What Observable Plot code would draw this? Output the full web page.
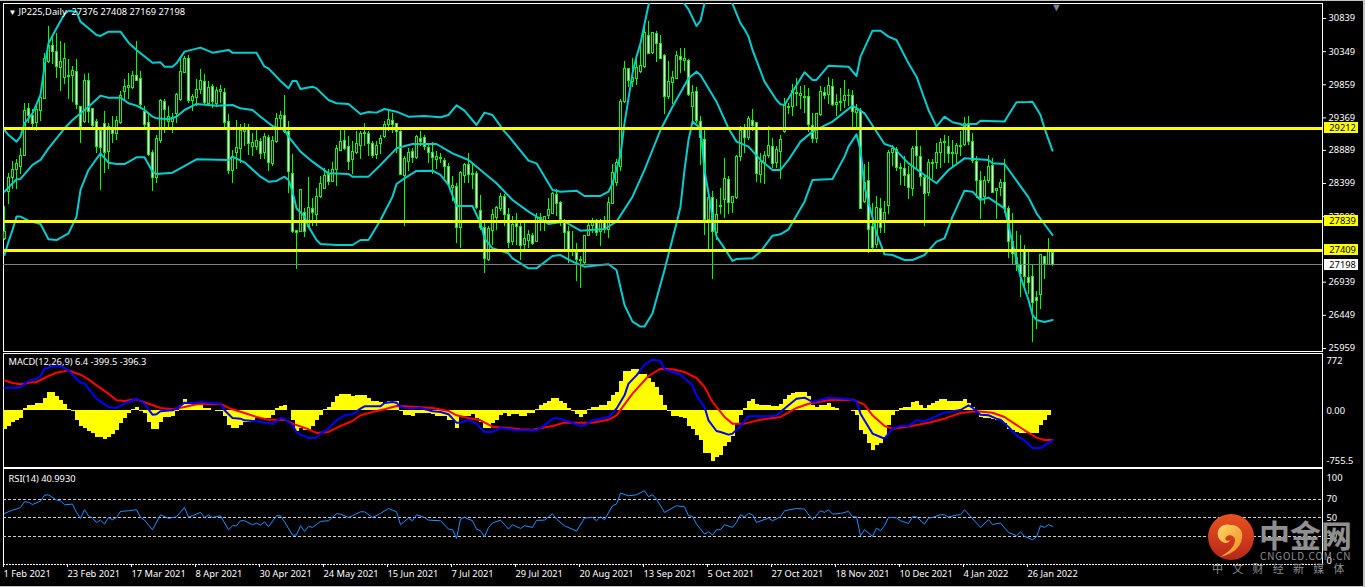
<!DOCTYPE html>
<html>
<head>
<meta charset="utf-8">
<script src="https://cdn.jsdelivr.net/npm/d3@7"></script>
<script src="https://cdn.jsdelivr.net/npm/@observablehq/plot@0.6"></script>
<style>
html,body{margin:0;padding:0;background:#000;width:1365px;height:587px;overflow:hidden}
#page{position:absolute;left:0;top:0;width:1365px;height:587px;background:#000;overflow:hidden}
#page svg{position:absolute;left:0;background:transparent;overflow:visible}
.edge{position:absolute;background:#c4c4c4}
.wm{position:absolute;white-space:nowrap;color:#8f8f8f;font-family:"Noto Sans CJK SC",sans-serif}
</style>
</head>
<body>
<div id="page"></div>
<script>
const FONT = '"Noto Sans",sans-serif';
const opens = [
27573,28278,28475,28599,28638,28811,29501,29402,29289,29471,
29644,30191,30433,30339,30102,29964,29979,29989,30043,29535,
29304,29915,29496,29314,29180,29274,28870,29200,29126,29299,
29757,29816,29816,29989,29940,29461,29289,28845,28475,29032,
29600,29304,29314,29427,29634,30038,30235,29619,29659,29782,
29895,29575,29821,29575,29752,29733,29304,28589,28855,28904,
29166,29200,28944,28944,29018,28855,29067,28687,29018,29348,
29402,29166,28540,27701,27687,27958,27751,28022,27933,28204,
28313,28525,28426,28599,28885,29032,28934,28747,28855,28959,
29131,29131,28983,28821,28978,29082,29264,29328,29274,29156,
28510,28722,28860,28781,29057,29067,28919,28855,28747,28757,
28737,28648,28328,28342,27746,28515,28673,28525,28535,27997,
27746,27268,27701,27884,28022,28204,27933,27529,27800,27751,
27489,27554,27622,27539,27859,27820,27918,27948,28229,28116,
27810,27677,27406,27366,27268,27218,27627,27775,27810,27687,
27820,27711,28096,28402,28648,29609,30088,29905,29945,30053,
30127,30581,30324,30610,30457,30285,29683,29880,29940,30275,
30216,30211,29535,29747,29314,29042,27859,28190,27672,28056,
28155,28451,28106,28180,28786,29215,29067,29328,29289,28525,
28707,28806,28944,28697,28860,29156,29511,29526,29718,29693,
29659,29673,29254,29052,29412,29742,29708,29821,29555,29595,
29624,29693,29698,29437,29471,28121,28441,27761,27489,28017,
27810,28071,28845,28894,28613,28609,28525,28313,28944,28796,
28475,28263,28687,28697,28855,29003,28944,28830,28830,28934,
28968,29264,29008,28722,28441,28204,28441,28658,28293,28337,
28402,28017,27539,27302,27194,27381,26996,27011,26711,26750,
27307,27194,27376];
const highs = [
28056,28549,28722,28747,28919,29585,29585,29486,29535,29733,
30324,30719,30571,30620,30497,30462,30226,30127,30235,29535,
30004,30019,29511,29338,29215,29471,29289,29387,29387,29757,
29930,30028,30053,30497,30053,29545,29437,28894,29116,29634,
29634,29535,29437,29733,30226,30275,30285,29708,29930,30078,
30004,29905,29856,29821,29841,29806,29412,28894,29328,29264,
29279,29264,29141,29190,29067,29141,29116,29092,29437,29461,
29693,29314,28835,27711,28303,28032,28490,28180,28328,28500,
28623,28599,28707,28968,29180,29190,29092,29018,29166,29166,
29279,29166,29018,29018,29116,29314,29486,29437,29289,29190,
28796,28919,28919,29116,29166,29116,28993,29003,28870,28845,
28771,28697,28500,28402,28574,28697,28845,28697,28574,28214,
27810,27761,28007,28056,28244,28229,28032,27908,27948,27835,
27835,27711,27662,27958,27958,27908,28180,28263,28303,28130,
27859,27761,27687,27504,27317,27637,27835,27884,27859,27859,
27918,28194,28673,28747,29634,30201,30102,30250,30226,30497,
30768,30793,30630,30645,30595,30300,30201,30053,30349,30398,
30398,30235,29841,29821,29397,29190,28303,28278,28155,28328,
28771,28500,28204,28820,29249,29264,29387,29486,29299,28845,
28870,29249,29067,28944,29116,29659,29585,29856,29954,29831,
29841,29806,29437,29437,29831,29821,29969,29930,29708,29806,
29915,29782,29772,29560,29511,28673,28712,28106,28204,28180,
28130,28894,28968,28934,28697,28796,28648,28944,29190,28944,
28500,28747,28747,28993,29067,29116,29101,29042,28993,29166,
29378,29387,29141,28796,28574,28500,28806,28771,28328,28451,
28747,28056,27948,27696,27637,27489,27391,27208,26799,27356,
27317,27588,27408];
const lows = [
27563,28081,28303,28303,28525,28811,29279,29180,29166,29314,
29644,30176,30152,29954,29757,29856,29644,29595,29486,28993,
29289,29279,29215,28845,28293,28540,28599,28983,29042,29264,
29609,29634,29782,29905,29486,29190,28796,28278,28402,28993,
29141,29180,29141,29289,29609,30028,29585,29461,29535,29708,
29560,29535,29511,29525,29575,29215,28525,28402,28599,28697,
28944,28806,28796,28894,28747,28747,28574,28648,28993,29215,
29141,28254,27662,27130,27687,27603,27736,27761,27761,28180,
28303,28362,28411,28352,28870,28894,28589,28525,28821,28747,
28944,28796,28771,28747,28821,29067,29166,29141,28845,28525,
27761,28574,28697,28747,28944,28894,28697,28525,28599,28697,
28475,28352,28130,27514,27440,28402,28402,28303,28017,27711,
27061,27243,27489,27711,27982,27761,27440,27489,27489,27258,
27425,27440,27489,27524,27687,27687,27859,27933,27908,27761,
27415,27218,27317,26947,26849,27194,27613,27662,27613,27465,
27662,27588,28081,28352,28574,29585,29821,29821,29841,30019,
30102,30300,30300,30186,30226,29412,29634,29560,29930,30028,
30053,29683,29314,29289,28658,27623,27415,26972,27563,27933,
27884,27933,27958,28155,28722,28845,29042,29166,28411,28402,
28377,28771,28623,28623,28451,29141,29412,29397,29535,29486,
29437,29151,28983,28983,29387,29644,29560,29535,29387,29461,
29511,29545,29215,29215,28007,28106,27366,27415,27440,27662,
27662,27933,28648,28574,28362,28352,28155,28204,28599,28352,
27770,28204,28451,28599,28623,28697,28697,28623,28697,28796,
28944,28968,28697,28180,27859,28081,28402,28254,27859,28204,
27958,27292,27194,27095,26711,26849,26750,26045,26232,26528,
26982,27194,27169];
const closes = [
27687,28475,28599,28687,28806,29471,29402,29279,29486,29659,
30235,30433,30349,30127,30201,30235,29989,30063,29560,29240,
29920,29461,29249,28934,28919,28845,29230,29126,29323,29693,
29821,29841,29989,29920,29560,29264,28821,28485,29057,29624,
29486,29378,29363,29708,30043,30235,29619,29673,29782,29915,
29585,29811,29609,29767,29782,29299,28589,28796,28919,29180,
29215,28983,28993,29032,28835,29082,28697,29023,29348,29402,
29166,28564,27687,27672,28303,27687,28032,27958,28204,28387,
28515,28426,28599,28904,29008,28904,28722,28860,28983,29131,
29151,28983,28811,28954,29057,29264,29338,29264,29166,28525,
28757,28845,28781,29082,29018,28944,28855,28771,28796,28781,
28638,28377,28362,27746,28549,28673,28525,28535,28032,27736,
27282,27726,27933,28032,28204,27933,27524,27785,27751,27480,
27573,27637,27504,27884,27884,27899,28007,28244,28091,27859,
27662,27406,27416,27268,27253,27622,27775,27820,27662,27810,
27711,28106,28549,28697,29609,30093,29915,29954,30102,30137,
30620,30314,30620,30457,30235,29673,29895,29954,30285,30226,
30235,29708,29733,29328,29077,27859,28180,27677,27933,28066,
28461,28106,28194,28796,29175,29067,29348,29249,28540,28712,
28806,28954,28683,28894,29042,29560,29526,29762,29742,29718,
29673,29264,29052,29422,29747,29698,29841,29555,29585,29609,
29698,29698,29452,29486,28022,28402,27711,27440,28032,27736,
27958,28845,28904,28623,28623,28510,28328,28904,28811,28490,
28239,28697,28707,28855,29003,29018,28830,28845,28959,28959,
29279,29018,28732,28436,28170,28441,28648,28263,28313,28402,
28022,27539,27356,27194,27061,27021,26923,26626,26666,27341,
27204,27381,27198];

const bbUpperIdx = [0,1,3,4,5,7,9,10,11,13,15,16,18,19,21,23,24,26,29,31,33,37,39,40,42,43,45,49,52,56,57,63,65,66,69,71,72,73,74,77,78,81,83,86,89,91,93,95,98,101,105,109,111,113,115,118,120,122,125,126,131,133,137,139,143,145,149,151,152,154,155,157,158,159,161,163,165,167,169,170,171,173,174,175,177,179,181,182,184,185,186,187,190,193,194,195,197,200,202,203,206,211,213,214,217,219,221,223,226,228,231,233,235,237,239,240,241,243,244,250,251,253,256,257,259,260,262];
const bbUpper = [29190,29116,29018,29092,29289,29437,29708,30127,30472,30694,30906,30955,30940,30793,30694,30595,30581,30645,30645,30482,30374,30186,30191,30127,30127,30176,30349,30408,30334,30374,30334,30334,30127,30102,29915,29806,29915,29915,29797,29831,29806,29634,29585,29575,29427,29457,29447,29501,29461,29387,29397,29378,29412,29555,29476,29264,29447,29412,29166,29102,28737,28697,28303,28278,28293,28214,28214,28278,28402,28821,29289,30028,30275,30472,31039,31261,31507,31409,31236,31054,30975,30728,30807,31064,31458,31606,31310,31054,30768,30679,30571,30374,29905,29634,29570,29560,29757,30043,29930,29930,30142,30127,29989,30275,30659,30659,30571,30521,30176,29979,29486,29240,29387,29304,29279,29249,29279,29279,29328,29314,29412,29600,29604,29609,29412,29215,28885];
const bbMiddleIdx = [0,3,4,7,9,11,14,15,17,21,24,26,29,31,33,35,37,38,41,43,45,48,53,57,59,62,64,67,70,71,74,77,81,86,87,91,94,98,102,108,112,116,119,123,127,131,136,140,144,150,153,157,160,164,167,171,173,174,178,181,183,186,189,192,194,196,199,202,207,212,215,220,222,226,230,233,236,240,246,247,250,253,256,258,262];
const bbMiddle = [28278,28461,28466,28673,28747,28919,29141,29215,29338,29535,29698,29668,29668,29585,29550,29486,29387,29363,29348,29387,29486,29575,29550,29560,29511,29486,29387,29249,29190,29092,28870,28722,28549,28539,28500,28500,28673,28919,28983,28983,28845,28747,28599,28402,28155,27982,27800,27835,27701,27726,27835,28204,28599,29190,29535,29954,30053,30004,29609,29215,29018,28944,28747,28599,28599,28747,29018,29166,29314,29550,29437,28983,28944,28697,28525,28402,28599,28771,28747,28697,28687,28441,28194,27958,27637];
const bbLowerIdx = [0,1,2,3,4,6,9,10,11,13,16,18,19,21,24,26,28,30,33,35,37,38,42,48,56,57,60,64,66,68,70,71,72,73,75,76,78,79,83,87,89,91,94,97,98,100,103,107,109,111,113,117,119,120,122,126,127,131,133,137,139,142,145,149,151,153,155,157,159,160,162,165,168,169,170,171,172,174,175,177,178,180,182,183,187,189,192,194,196,200,202,207,210,211,213,214,215,218,220,222,225,227,230,233,235,237,240,242,244,246,250,252,254,256,257,258,260,262];
const bbLower = [27341,27539,27711,27909,27909,27849,27800,27687,27573,27563,27662,27909,28303,28599,28845,28707,28687,28687,28786,28786,28574,28540,28559,28757,28747,28796,28712,28500,28426,28436,28500,28451,28278,28032,27909,27761,27563,27504,27489,27489,27563,27563,27859,28204,28392,28475,28584,28589,28525,28377,28066,28066,27810,27588,27440,27366,27292,27144,27144,27327,27341,27243,27169,27194,27204,27120,26602,26355,26282,26282,26479,27120,27810,28056,28599,29042,29314,29215,28599,27909,27613,27440,27253,27282,27292,27391,27627,27647,27721,28130,28451,28466,28796,28944,29126,28895,28352,27662,27351,27341,27268,27268,27341,27539,27588,27909,28293,28278,28155,28190,28032,27514,27021,26676,26454,26380,26351,26380];

const macdHist = [-286,-245,-179,-143,-118,36,77,77,112,112,189,281,281,215,164,97,26,-15,-143,-245,-271,-322,-347,-414,-414,-445,-414,-363,-296,-194,-118,-41,26,46,-5,-41,-179,-286,-286,-169,-102,-102,-77,-15,87,174,97,97,87,87,36,36,0,-3,-5,-92,-230,-276,-276,-230,-184,-184,-143,-118,-118,-118,-118,-66,36,72,82,2,-143,-312,-261,-296,-296,-245,-143,-66,26,61,128,215,250,256,256,225,240,240,240,189,148,148,128,112,148,148,148,-15,-66,-66,-82,-41,-36,-36,-36,-56,-92,-92,-92,-143,-143,-271,-92,-92,-92,-56,-118,-179,-271,-271,-194,-143,-66,-46,-92,-61,-61,-77,-77,-41,-41,26,87,112,153,189,189,148,112,36,-15,-51,-102,-56,26,46,46,87,87,138,240,291,455,608,608,629,629,567,567,496,434,368,240,77,-15,-92,-92,-102,-118,-245,-286,-373,-450,-654,-654,-772,-721,-680,-552,-485,-399,-210,-66,36,138,179,97,87,87,87,72,72,97,179,240,266,276,276,276,215,87,46,87,87,112,61,36,10,10,10,-5,-66,-296,-363,-501,-603,-537,-501,-414,-220,-66,-15,36,46,46,128,138,87,36,77,112,148,179,179,148,138,138,138,169,112,61,-5,-107,-118,-118,-133,-143,-143,-194,-281,-296,-337,-347,-347,-347,-353,-353,-230,-143,-66,6.4];
const macdBlueIdx = [0,4,5,6,8,9,10,12,14,16,17,19,20,21,23,25,26,28,30,31,33,35,36,37,38,39,42,43,45,47,49,54,55,57,59,60,63,67,69,70,72,73,74,76,78,79,81,83,85,87,89,90,94,95,97,98,99,101,104,107,109,111,113,114,116,118,120,122,124,128,133,135,137,138,141,144,145,147,151,153,155,156,158,160,162,164,165,167,169,172,173,175,176,178,179,181,182,184,186,191,193,196,198,200,202,206,211,213,214,217,219,220,222,224,226,228,230,235,239,241,242,244,246,248,249,251,253,255,257,259,262];
const macdBlue = [358,358,419,460,496,537,649,685,690,623,557,434,424,342,189,102,61,46,112,138,189,112,26,-56,-51,-5,10,36,128,118,138,112,10,-107,-118,-143,-158,-199,-107,-118,-220,-322,-363,-414,-409,-347,-271,-143,-66,-51,36,72,72,123,138,128,61,36,46,-5,-15,-51,-179,-179,-138,-194,-322,-322,-261,-296,-296,-220,-118,-107,-158,-230,-220,-143,-92,36,240,419,547,710,787,767,639,598,557,393,240,61,-143,-307,-322,-363,-347,-230,-82,-82,-66,87,189,204,138,204,184,148,-41,-347,-399,-424,-271,-230,-230,-143,-158,-26,15,87,51,-56,-66,-118,-133,-245,-373,-450,-567,-567,-450];
const macdRedIdx = [0,2,4,6,8,11,13,16,19,21,23,26,28,30,33,36,39,42,45,48,54,56,60,63,66,70,72,76,78,81,84,87,89,92,95,98,100,107,111,113,116,119,122,125,129,132,137,140,144,147,151,153,157,161,164,167,170,173,175,177,180,182,185,189,194,198,201,206,212,215,217,220,222,226,231,235,239,243,247,250,255,258,260,262];
const macdRed = [470,429,409,434,445,537,588,623,557,485,393,266,164,153,179,112,46,26,61,102,112,46,-31,-92,-133,-133,-194,-281,-337,-322,-230,-153,-66,-15,26,77,72,46,0,-66,-107,-143,-240,-256,-281,-286,-230,-179,-179,-179,-133,-66,266,537,649,639,598,506,368,138,-92,-194,-194,-133,-92,46,112,164,174,97,-66,-230,-271,-240,-179,-118,-31,-5,-26,-92,-296,-409,-445,-445];

const rsiIdx = [0,2,3,4,5,6,7,9,10,11,13,14,15,17,18,19,20,21,22,23,24,25,26,27,28,29,31,33,34,35,37,39,41,43,45,46,47,49,50,51,52,54,56,57,58,59,60,62,63,64,65,66,68,69,70,72,73,74,75,76,77,79,81,83,84,86,87,89,90,92,94,96,98,99,101,102,103,105,106,109,111,112,113,114,115,117,118,119,120,121,122,124,126,127,129,130,132,133,135,137,138,140,143,145,147,148,149,150,152,153,154,156,158,160,161,162,163,165,168,170,171,172,173,175,176,177,178,179,180,182,183,184,185,186,187,188,191,192,194,195,198,200,202,204,205,206,207,209,211,212,213,214,215,217,218,219,220,221,223,224,226,227,228,230,231,232,234,235,236,238,239,240,244,246,247,249,251,253,254,255,257,258,259,260,261,262];
const rsiValues = [55,58.5,59.6,61.4,67.5,67,64.6,68.2,74.7,75,69.3,68.6,64.3,65,56,49.5,58.9,52.4,49.9,45.2,47.7,43.4,50.6,48.1,50.6,57.1,57.8,58.9,50.6,47.7,37.3,53.5,49.5,51.3,61.4,51,52.4,56,50.6,53.1,50.6,52.4,37.3,41.6,41.6,47,47,42.7,44.5,42.3,45.9,40.5,52.4,52.4,45.9,31.5,31.5,41.6,35.5,40.9,39.8,46.3,47,54.6,54.2,50.6,52.4,56.7,56.7,50.6,54.9,60.3,56.7,42.7,49.9,47,53.5,50.6,47.7,47,38,37.3,27.9,48.8,50.6,47,38,36.2,29.7,39.8,44.5,47.7,38,42.7,38.7,41.6,39.8,47.4,47.7,54.6,48.8,41.6,35.8,49.9,50.6,47,51.3,48.1,63.2,65,76.9,74,75.1,79.4,73,75.1,70.4,56,63.2,62.1,52.4,51.7,43.4,32.6,35.1,31.5,37.3,37.3,42.7,39.8,45.2,53.5,51.3,54.9,53.5,45.2,49.9,47,51.3,57.8,60.3,59.6,48.1,57.8,56,58.9,54.2,54.9,57.1,51.3,51.3,30.8,37.3,30.1,39.1,36.2,41.6,50.6,50.2,47,44.1,51.3,51.3,43.4,49.9,50.6,53.5,53.5,51,53.1,53.5,58.9,39.8,48.1,43,44.5,34.4,30.8,35.1,30.1,26.5,29.7,41.6,39.8,42.7,40.99];
const rsiLevels = [70,50,30];

const priceTicks = [30839,30349,29859,29369,28889,28399,27909,26939,26449,25959];
const levelPrices = [29212,27839,27409];
const lastPrice = [27198];
const macdTicks = [772,0,-755.5];
const rsiTicks = [70,50,30];
const dateTicks = [0,16,32,48,64,80,96,112,128,144,160,176,192,208,224,240,256];
const dateLabels = ["1 Feb 2021","23 Feb 2021","17 Mar 2021","8 Apr 2021","30 Apr 2021","24 May 2021","15 Jun 2021","7 Jul 2021","29 Jul 2021","20 Aug 2021","13 Sep 2021","5 Oct 2021","27 Oct 2021","18 Nov 2021","10 Dec 2021","4 Jan 2022","26 Jan 2022"];

const bars = d3.range(opens.length);
const page = document.getElementById("page");
const xScale = {domain:[-0.25,329.5], axis:null};
const TS = 9.3;
const common = {width:1365, marginLeft:3, marginRight:43, x:xScale,
  style:{background:"transparent", fontFamily:FONT, fontSize:TS+"px"}};
const cyan = "#00ced1";
const lineOpt = (xs)=>({x:xs, y:d=>d, stroke:cyan, strokeWidth:2, clip:true});

function place(svg, top){ svg.style.top = top + "px"; page.appendChild(svg); }

// price panel
place(Plot.plot({...common, height:352, marginTop:3, marginBottom:1,
  y:{domain:[25914,31061], axis:null},
  marks:[
    Plot.frame({stroke:"#fff"}),
    Plot.axisY(priceTicks,{anchor:"right", tickSize:3, tickPadding:3, color:"#fff", fontSize:TS, label:null, tickFormat:d=>String(d)}),
    Plot.ruleX(bars,{x:i=>i, y1:i=>lows[i], y2:i=>highs[i], stroke:"#00ff00", strokeWidth:1, shapeRendering:"crispEdges"}),
    Plot.rect(bars,{x1:i=>i-0.25, x2:i=>i+0.25, y1:i=>opens[i], y2:i=>closes[i],
      stroke:"#00ff00", strokeWidth:1, fill:i=>closes[i]<opens[i]?"#ffffff":"#000000", shapeRendering:"crispEdges"}),
    Plot.line(bbUpper, lineOpt(bbUpperIdx)),
    Plot.line(bbMiddle, lineOpt(bbMiddleIdx)),
    Plot.line(bbLower, lineOpt(bbLowerIdx)),
    Plot.ruleY(lastPrice,{x1:-0.25, x2:329.5, stroke:"#808080", strokeWidth:1, shapeRendering:"crispEdges"}),
    Plot.ruleY(levelPrices,{x1:-0.25, x2:329.5, stroke:"#ffff00", strokeWidth:3, shapeRendering:"crispEdges"}),
    Plot.ruleY(levelPrices,{x1:330.1, x2:338.4, y:d=>d+10, stroke:"#ffff00", strokeWidth:11, shapeRendering:"crispEdges", clip:false}),
    Plot.ruleY(lastPrice,{x1:330.1, x2:338.4, y:d=>d+10, stroke:"#ffffff", strokeWidth:11, shapeRendering:"crispEdges", clip:false}),
    Plot.text(levelPrices.concat(lastPrice),{x:331.2, y:d=>d, text:d=>String(d), fill:"#000", textAnchor:"start", fontSize:TS}),
    Plot.text(["▼"],{x:263, frameAnchor:"top", text:d=>d, fill:"#778899", fontSize:11, dy:0}),
    Plot.text(["▼"],{frameAnchor:"top-left", text:d=>d, fill:"#fff", fontSize:8, dx:5, dy:6}),
    Plot.text(["JP225,Daily  27376 27408 27169 27198"],{frameAnchor:"top-left", text:d=>d, fill:"#fff", fontSize:TS, dx:15, dy:5})
  ]}), 0);

// MACD panel
place(Plot.plot({...common, height:116, marginTop:1, marginBottom:1,
  y:{domain:[-867,882], axis:null},
  marks:[
    Plot.frame({stroke:"#fff"}),
    Plot.axisY(macdTicks,{anchor:"right", tickSize:0, tickPadding:4, color:"#fff", fontSize:TS, label:null, dy:0.5, tickFormat:d=>d===0?"0.00":String(d)}),
    Plot.rect(bars,{x1:i=>i-0.375, x2:i=>i+0.625, y1:()=>0, y2:i=>macdHist[i], fill:"#ffff00", shapeRendering:"crispEdges"}),
    Plot.line(macdRed,{x:macdRedIdx, y:d=>d, stroke:"#ff0000", strokeWidth:2}),
    Plot.line(macdBlue,{x:macdBlueIdx, y:d=>d, stroke:"#0000ff", strokeWidth:2}),
    Plot.text(["MACD(12,26,9) 6.4 -399.5 -396.3"],{frameAnchor:"top-left", text:d=>d, fill:"#fff", fontSize:TS, dx:5, dy:5})
  ]}), 352);

// RSI panel
place(Plot.plot({...common, height:121, marginTop:2, marginBottom:23,
  x:{...xScale},
  y:{domain:[-0.3,103.5], axis:null},
  marks:[
    Plot.ruleX([-0.25,329.5],{stroke:"#fff", strokeWidth:1, shapeRendering:"crispEdges"}),
    Plot.ruleY([103.5],{stroke:"#fff", strokeWidth:1, shapeRendering:"crispEdges"}),
    Plot.ruleY([-0.3],{stroke:"#fff", strokeWidth:1, strokeDasharray:"2,1", shapeRendering:"crispEdges"}),
    Plot.ruleY(rsiLevels,{stroke:"#cfcfcf", strokeWidth:1, strokeDasharray:"3,2", shapeRendering:"crispEdges"}),
    Plot.axisY(rsiTicks,{anchor:"right", tickSize:0, tickPadding:4, color:"#fff", fontSize:TS, label:null}),
    Plot.axisY([100],{anchor:"right", tickSize:0, tickPadding:4, color:"#fff", fontSize:TS, label:null, dy:6}),
    Plot.axisY([0],{anchor:"right", tickSize:0, tickPadding:4, color:"#fff", fontSize:TS, label:null, dy:-3}),
    Plot.line(rsiValues,{x:rsiIdx, y:d=>d, stroke:"#1e90ff", strokeWidth:1}),
    Plot.axisX(dateTicks,{anchor:"bottom", tickSize:3, tickPadding:3, color:"#fff", fontSize:TS, textAnchor:"start", label:null, dx:-1,
      tickFormat:d=>dateLabels[dateTicks.indexOf(d)]}),
    Plot.text(["RSI(14) 40.9930"],{frameAnchor:"top-left", text:d=>d, fill:"#fff", fontSize:TS, dx:5, dy:7})
  ]}), 466);

// window edges and watermark
function edge(l,t,w,h){const e=document.createElement("div");e.className="edge";e.style.cssText=`left:${l}px;top:${t}px;width:${w}px;height:${h}px`;page.appendChild(e);}
edge(0,0,1365,1);edge(1363,0,2,587);edge(0,585.5,1365,1.5);

const NS="http://www.w3.org/2000/svg";
const logo=document.createElementNS(NS,"svg");
logo.setAttribute("width","50");logo.setAttribute("height","50");logo.setAttribute("viewBox","0 0 50 50");
logo.style.cssText="left:1206px;top:512px";
logo.innerHTML='<defs><linearGradient id="g" x1="0" y1="0" x2="0" y2="1"><stop offset="0" stop-color="#e8521e"/><stop offset="1" stop-color="#b8261a"/></linearGradient><linearGradient id="h" x1="0" y1="0" x2="1" y2="1"><stop offset="0" stop-color="#ffd766"/><stop offset="1" stop-color="#f08a1e"/></linearGradient></defs><circle cx="25" cy="25" r="23" fill="url(#g)"/><path d="M12 24c-2-8 6-13 12-11 7-1 14 5 12 13-1 10-10 16-22 19 7-4 14-9 15-16 1-5-6-8-9-4-2 3 2 5 4 3-1 5-10 4-12-4z" fill="url(#h)"/>';
page.appendChild(logo);
function wm(text,l,t,size,weight,spacing){const d=document.createElement("div");d.className="wm";d.textContent=text;d.style.cssText=`left:${l}px;top:${t}px;font-size:${size}px;line-height:${size}px;font-weight:${weight};letter-spacing:${spacing}px`;page.appendChild(d);}
wm("中金网",1259,518,31,700,0);
wm("CNGOLD.COM.CN",1260,551,10,400,0.8);
wm("中 文 财 经 新 媒 体",1212,563,11,400,3.4);
</script>
</body>
</html>
